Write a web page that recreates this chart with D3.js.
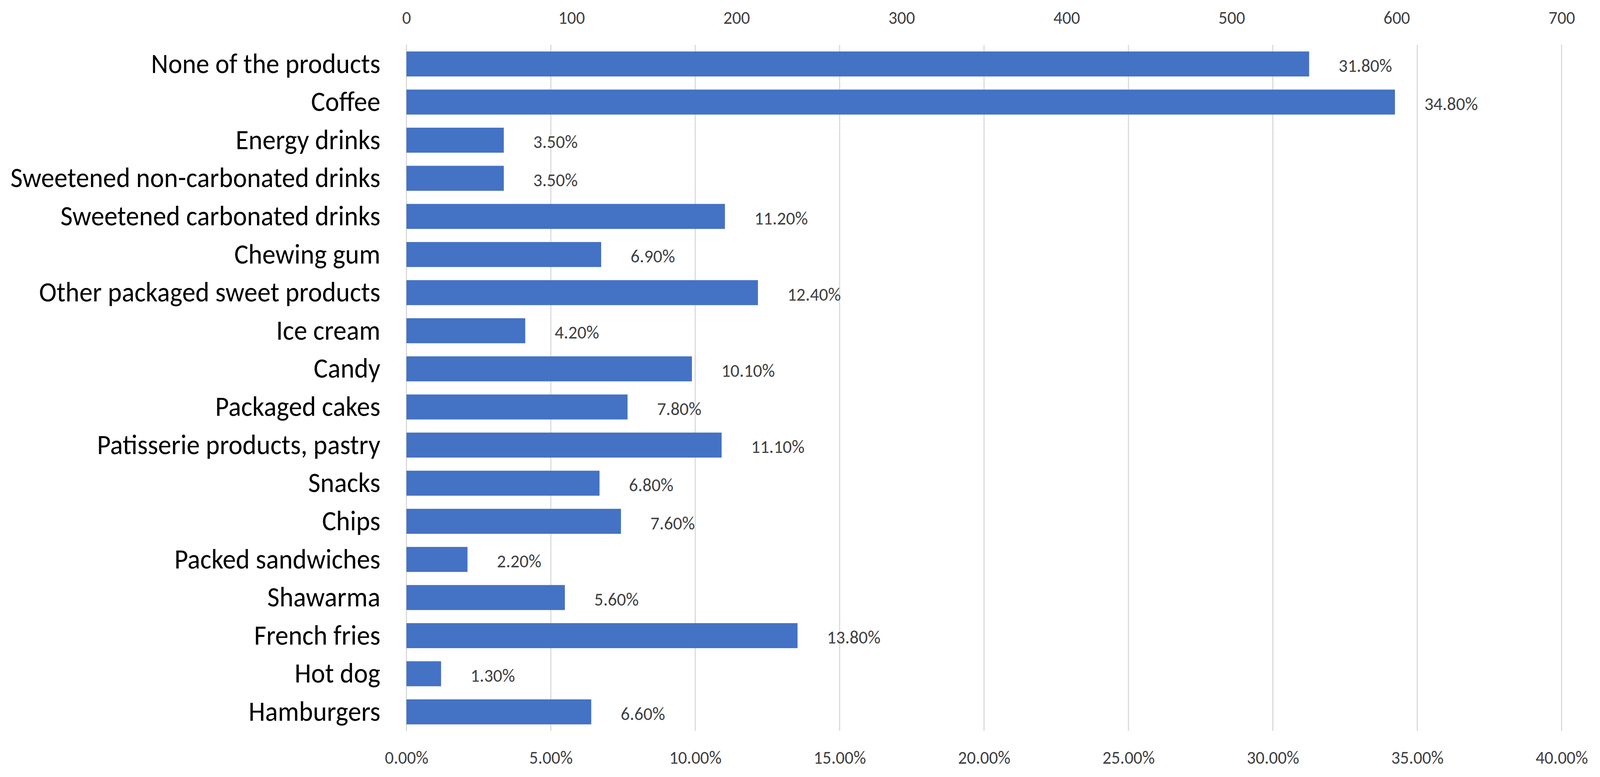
<!DOCTYPE html>
<html>
<head>
<meta charset="utf-8">
<script src="https://cdn.jsdelivr.net/npm/d3@7"></script>
<style>
  html, body { margin: 0; padding: 0; background: #fff; overflow: hidden; width: 100%; height: 100%; }
  svg { display: block; width: 100vw; height: 100vh; }
  text { font-family: Carlito, Calibri, Lato, sans-serif; }
</style>
</head>
<body>
<svg id="chart" viewBox="0 0 4295 1990" preserveAspectRatio="none"></svg>
<script>
// ---- data ----
const categories = [
  "None of the products", "Coffee", "Energy drinks", "Sweetened non-carbonated drinks",
  "Sweetened carbonated drinks", "Chewing gum", "Other packaged sweet products", "Ice cream",
  "Candy", "Packaged cakes", "Patisserie products, pastry", "Snacks", "Chips",
  "Packed sandwiches", "Shawarma", "French fries", "Hot dog", "Hamburgers"
];
const counts = [547, 599, 59, 59, 193, 118, 213, 72, 173, 134, 191, 117, 130, 37, 96, 237, 21, 112];
const percents = [31.8, 34.8, 3.5, 3.5, 11.2, 6.9, 12.4, 4.2, 10.1, 7.8, 11.1, 6.8, 7.6, 2.2, 5.6, 13.8, 1.3, 6.6];
const topTicks = [0, 100, 200, 300, 400, 500, 600, 700];
const bottomTicks = [0, 5, 10, 15, 20, 25, 30, 35, 40];

// ---- layout ----
const W = 4295, H = 1990;
const margin = { left: 1091, right: 103, top: 115, bottom: 118 };
const innerW = W - margin.left - margin.right;
const innerH = H - margin.top - margin.bottom;
const FONT = "Carlito, Calibri, Lato, sans-serif";

const svg = d3.select("#chart");
const g = svg.append("g").attr("transform", `translate(${margin.left},${margin.top})`);

const xCount = d3.scaleLinear().domain([0, 700]).range([0, innerW]);
const xPct = d3.scaleLinear().domain([0, 40]).range([0, innerW]);
const y = d3.scaleBand().domain(categories).range([0, innerH]).paddingInner(0.344).paddingOuter(0.172);

// gridlines (from bottom percent axis)
g.append("g").selectAll("line").data(bottomTicks).join("line")
  .attr("x1", d => xPct(d)).attr("x2", d => xPct(d))
  .attr("y1", 0).attr("y2", innerH)
  .attr("stroke", "#d9d9d9").attr("stroke-width", 3);

// bars
const rows = categories.map((c, i) => ({ c, n: counts[i], p: percents[i] }));
g.append("g").selectAll("rect").data(rows).join("rect")
  .attr("x", 0).attr("y", d => y(d.c))
  .attr("width", d => xCount(d.n)).attr("height", y.bandwidth())
  .attr("fill", "#4472C4");

// value labels
g.append("g").selectAll("text").data(rows).join("text")
  .attr("x", d => xCount(d.n) + 79)
  .attr("y", d => y(d.c) + y.bandwidth() / 2 + 4)
  .attr("dominant-baseline", "central")
  .attr("font-family", FONT)
  .attr("font-size", 48).attr("fill", "#404040")
  .text(d => d.p.toFixed(2) + "%");

// category axis
const yAxis = d3.axisLeft(y).tickSize(0).tickPadding(70);
const ya = g.append("g").call(yAxis);
ya.select(".domain").remove();
const catTexts = ya.selectAll("text").attr("font-size", 67).attr("fill", "#000")
  .attr("font-family", FONT);
// fit label font so the longest label spans about the reference width
let maxW = 0;
catTexts.each(function () { maxW = Math.max(maxW, this.getComputedTextLength()); });
if (maxW > 0) catTexts.attr("font-size", 67 * 993 / maxW);

// top axis (counts)
const topAxis = d3.axisTop(xCount).tickValues(topTicks).tickSize(0).tickPadding(0).tickFormat(d3.format("d"));
const ta = g.append("g").attr("transform", `translate(0,${45 - margin.top})`).call(topAxis);
ta.select(".domain").remove();
ta.selectAll("text").attr("font-size", 47).attr("fill", "#404040")
  .attr("dominant-baseline", "central").attr("dy", null)
  .attr("font-family", FONT);

// bottom axis (percent)
const botAxis = d3.axisBottom(xPct).tickValues(bottomTicks).tickSize(0).tickPadding(0).tickFormat(d => d.toFixed(2) + "%");
const ba = g.append("g").attr("transform", `translate(0,${1940 - margin.top})`).call(botAxis);
ba.select(".domain").remove();
ba.selectAll("text").attr("font-size", 47).attr("fill", "#404040")
  .attr("dominant-baseline", "central").attr("dy", null)
  .attr("font-family", FONT);
</script>
</body>
</html>
